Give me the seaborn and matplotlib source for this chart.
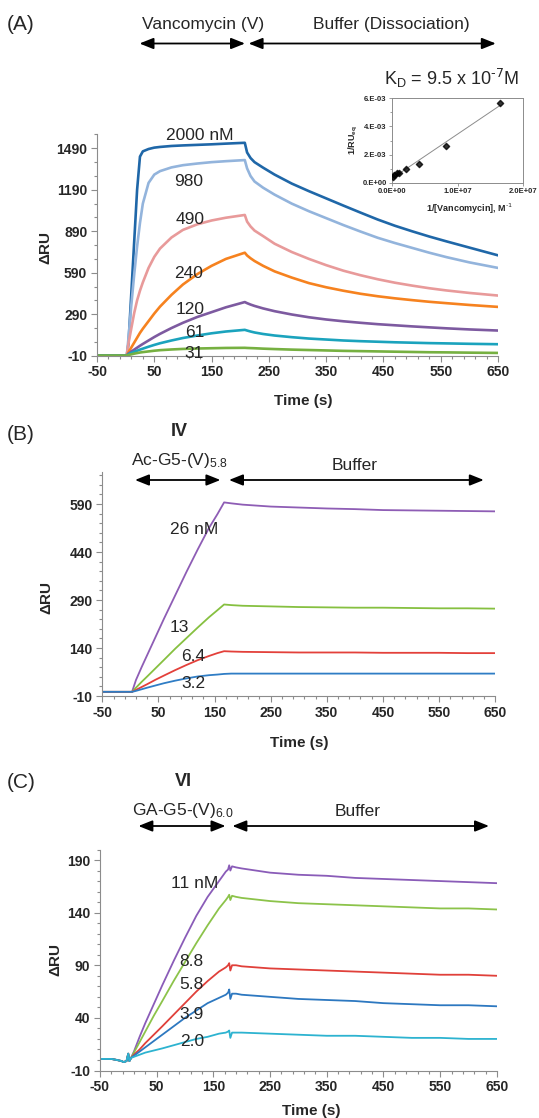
import numpy as np
import pandas as pd
import seaborn as sns
import matplotlib.pyplot as plt
from matplotlib.ticker import MultipleLocator, FuncFormatter
from matplotlib.patches import FancyArrowPatch

# --- (A) vancomycin sensorgrams ---
a_time = [-50, 0, 2, 5, 10, 15, 20, 25, 30, 40, 50, 60, 80, 100, 125, 150, 175, 208,
          212, 218, 225, 240, 260, 290, 320, 350, 380, 410, 440, 470, 500, 530, 560, 600, 650]
a_2000 = [-9, -9, -9, 80, 450, 820, 1190, 1430, 1468, 1485, 1495, 1500, 1507, 1511, 1515, 1519, 1524, 1530,
          1460, 1420, 1390, 1350, 1300, 1235, 1180, 1128, 1076, 1025, 975, 930, 890, 852, 817, 772, 716]
a_980 = [-9, -9, -9, 120, 360, 580, 780, 950, 1090, 1240, 1300, 1325, 1352, 1368, 1380, 1390, 1397, 1405,
         1345, 1290, 1250, 1205, 1155, 1090, 1035, 985, 935, 888, 843, 805, 770, 735, 703, 665, 625]
a_490 = [-9, -9, -9, 80, 190, 300, 390, 460, 520, 625, 705, 765, 845, 900, 940, 968, 988, 1008,
         960, 925, 895, 855, 800, 740, 690, 645, 605, 572, 543, 518, 497, 478, 462, 444, 425]
a_240 = [-9, -9, -9, 15, 50, 85, 120, 155, 185, 240, 295, 345, 430, 505, 580, 640, 690, 735,
         715, 695, 675, 640, 600, 555, 515, 485, 460, 438, 420, 405, 392, 380, 370, 357, 343]
a_120 = [-9, -9, -9, 5, 20, 34, 48, 62, 75, 100, 125, 148, 190, 228, 270, 305, 340, 378,
         370, 360, 350, 332, 312, 288, 268, 252, 239, 228, 218, 210, 202, 195, 188, 180, 172]
a_61 = [-9, -9, -9, 0, 10, 18, 26, 34, 41, 55, 68, 80, 100, 118, 136, 152, 165, 177,
        172, 165, 158, 147, 136, 124, 114, 107, 100, 95, 91, 87, 84, 81, 79, 76, 73]
a_31 = [-9, -9, -9, -5, 0, 5, 9, 13, 16, 21, 26, 30, 35, 39, 42, 44, 46, 47,
        46, 45, 44, 41, 38, 34, 31, 28, 25, 23, 21, 19, 17, 15, 14, 12, 10]
a_labels = ['2000 nM', '980', '490', '240', '120', '61', '31']
a_label_t = [130, 110, 113, 110, 112, 120, 120]
a_label_ru = [1585, 1253, 977, 581, 326, 161, 7]
a_colors = ['#1f67a8', '#93b4dc', '#e89a9a', '#f6821f', '#7d5aa0', '#1ba3bd', '#76b041']

# inset: 1/RUeq vs 1/[vancomycin]
inv_conc = [5.1e4, 3.07e5, 6.65e5, 1.07e6, 2.05e6, 4.09e6, 8.24e6, 1.652e7]
inv_ru = [3.79e-4, 5.45e-4, 6.64e-4, 7.11e-4, 9.72e-4, 1.33e-3, 2.61e-3, 5.69e-3]

# --- (B) Ac-G5-(V)5.8 ---
b_time = [-50, -10, 0, 3, 10, 20, 30, 45, 60, 80, 100, 120, 140, 155, 167,
          180, 200, 250, 300, 350, 400, 450, 500, 550, 600, 650]
b_26 = [3, 3, 3, 3, 40, 80, 118, 175, 232, 305, 378, 448, 515, 558, 595,
        592, 588, 582, 579, 576, 574, 571, 570, 569, 568, 567]
b_13 = [3, 3, 3, 3, 16, 34, 51, 77, 103, 138, 171, 204, 236, 258, 276,
        274, 272, 270, 268, 267, 266, 266, 265, 264, 264, 263]
b_6_4 = [3, 3, 3, 3, 9, 18, 27, 41, 54, 71, 87, 102, 115, 124, 130,
         129, 128, 127, 126, 126, 126, 125, 125, 125, 124, 124]
b_3_2 = [3, 3, 3, 3, 6, 11, 16, 23, 30, 38, 45, 51, 55, 57, 59,
         60, 60, 60, 60, 60, 60, 60, 60, 60, 60, 60]
b_labels = ['26 nM', '13', '6.4', '3.2']
b_label_t = [114, 88, 112, 112]
b_label_ru = [511, 203, 113, 30]
b_colors = ['#8e5db5', '#86c040', '#e3403a', '#2f7dc5']

# --- (C) GA-G5-(V)6.0 ---
c_time = [-50, -30, -20, -12, -8, -3, 0, 2, 5, 10, 20, 30, 45, 60, 80, 100, 120, 140, 160,
          172, 176, 178, 180, 183, 190, 200, 250, 300, 350, 400, 450, 500, 550, 600, 650]
c_base = [1, 1, 0, -1, -2, -1, 6, -1, 2]
c_11 = c_base + [8, 22, 35, 53, 71, 94, 116, 137, 155, 170,
                 179, 181, 185, 180, 184, 183, 182, 178, 176, 175, 173, 172, 171, 170, 169, 168]
c_8_8 = c_base + [7, 17, 27, 42, 56, 75, 93, 111, 128, 144,
                  152, 155, 157, 152, 156, 155, 154, 151, 149, 148, 147, 146, 145, 144, 144, 143]
c_5_8 = c_base + [5, 10, 16, 24, 32, 43, 54, 65, 75, 84,
                  88, 90, 92, 85, 90, 90, 89, 87, 86, 85, 84, 83, 82, 81, 81, 80]
c_3_9 = c_base + [4, 8, 12, 18, 24, 32, 40, 47, 54, 59,
                  62, 64, 67, 58, 63, 63, 62, 60, 58, 57, 56, 54, 53, 52, 52, 51]
c_2_0 = c_base + [3, 5, 7, 9, 11, 14, 17, 20, 22, 25,
                  26, 27, 28, 21, 26, 26, 26, 25, 24, 23, 23, 22, 21, 21, 20, 20]
c_labels = ['11 nM', '8.8', '5.8', '3.9', '2.0']
c_label_t = [117, 112, 112, 112, 112]
c_label_ru = [168, 94, 72, 43, 18]
c_colors = ['#8a5cb8', '#8cc34a', '#e0403a', '#2d78c0', '#2db3d0']

sns.set_style('ticks')
plt.rcParams['font.family'] = ['Liberation Sans', 'DejaVu Sans']
plt.rcParams['mathtext.default'] = 'regular'
plt.rcParams['axes.unicode_minus'] = False

W, H = 539, 1118
fig = plt.figure(figsize=(W / 100, H / 100), dpi=100)


def box(left, top, right, bottom):
    # figure-pixel box -> axes rect
    return [left / W, 1 - bottom / H, (right - left) / W, (bottom - top) / H]


def ftext(x, y, s, **kw):
    kw.setdefault('ha', 'center')
    kw.setdefault('va', 'center')
    fig.text(x / W, 1 - y / H, s, **kw)


def arrow(x0, x1, y):
    fig.add_artist(FancyArrowPatch((x0 / W, 1 - y / H), (x1 / W, 1 - y / H),
                                   transform=fig.transFigure,
                                   arrowstyle='<|-|>,head_length=0.7,head_width=0.28',
                                   mutation_scale=12, lw=1.3, color='black',
                                   shrinkA=0, shrinkB=0))


def panel(rect, time, series, labels, colors, lw, label_t, label_ru,
          yticks, yminor, ylim):
    ax = fig.add_axes(rect)
    df = pd.concat([pd.DataFrame({'time': time, 'ru': v, 'conc': n})
                    for n, v in zip(labels, series)])
    sns.lineplot(data=df, x='time', y='ru', hue='conc', hue_order=labels,
                 palette=dict(zip(labels, colors)), estimator=None,
                 legend=False, lw=lw, ax=ax)
    for s, t, r in zip(labels, label_t, label_ru):
        ax.text(t, r, s, ha='center', va='center', fontsize=12.5)
    ax.set_xlim(-50, 650)
    ax.set_ylim(*ylim)
    ax.set_xticks(range(-50, 651, 100))
    ax.set_yticks(yticks)
    ax.xaxis.set_minor_locator(MultipleLocator(20, offset=-50))
    ax.yaxis.set_minor_locator(MultipleLocator(yminor, offset=-10))
    ax.tick_params(which='both', direction='out', color='#8c8c8c', width=0.8)
    ax.tick_params(which='major', length=4, labelsize=10, pad=3)
    ax.tick_params(which='minor', length=2.5)
    plt.setp(ax.get_xticklabels() + ax.get_yticklabels(), fontweight='bold')
    sns.despine(ax=ax)
    for sp in ['left', 'bottom']:
        ax.spines[sp].set_color('#8c8c8c')
        ax.spines[sp].set_linewidth(0.8)
    ax.set_xlabel('')
    ax.set_ylabel('')
    return ax


# --- panel A ---
panel(box(97, 134.5, 498, 355.7), a_time, [a_2000, a_980, a_490, a_240, a_120, a_61, a_31],
      a_labels, a_colors, 1.9, a_label_t, a_label_ru,
      [-10, 290, 590, 890, 1190, 1490], 100, (-10, 1590))
ftext(7, 25, '(A)', ha='left', fontsize=15)
ftext(203, 25, 'Vancomycin (V)', fontsize=12.5)
ftext(391, 25, 'Buffer (Dissociation)', fontsize=12.5)
arrow(139.5, 245, 43.5)
arrow(248.6, 495.8, 43.5)
ftext(45, 248, 'ΔRU', rotation=90, fontsize=11, fontweight='bold')
ftext(303, 401, 'Time (s)', fontsize=11, fontweight='bold')

# inset
ins = fig.add_axes(box(392.3, 98.3, 522.7, 182.7))
sns.regplot(x=inv_conc, y=inv_ru, ci=None, truncate=True, marker='D', ax=ins,
            scatter_kws={'s': 10, 'color': 'black', 'zorder': 3},
            line_kws={'color': '#8c8c8c', 'lw': 0.7})
ins.set_xlim(0, 2e7)
ins.set_ylim(0, 6e-3)
ins.set_xticks([0, 1e7, 2e7])
ins.set_yticks([0, 2e-3, 4e-3, 6e-3])
ins.yaxis.set_minor_locator(MultipleLocator(1e-3))
ins.xaxis.set_major_formatter(FuncFormatter(lambda v, _: f'{v:.1E}'))
ins.yaxis.set_major_formatter(FuncFormatter(lambda v, _: f'{v:#.0E}'))
ins.tick_params(which='both', direction='out', color='#8c8c8c', width=0.6, labelsize=5.5, pad=1.5)
ins.tick_params(which='major', length=2.5)
ins.tick_params(which='minor', length=1.5)
plt.setp(ins.get_xticklabels() + ins.get_yticklabels(), fontweight='bold')
for sp in ins.spines.values():
    sp.set_color('#8c8c8c')
    sp.set_linewidth(0.7)
ftext(451.7, 78.3, r'K$_{D}$ = 9.5 x 10$^{\text{-7}}$M', fontsize=13)
ftext(469, 208.3, r'1/[Vancomycin], M$^{\text{-1}}$', fontsize=6.5, fontweight='bold')
ftext(353.3, 140.7, '1/RU$_{eq}$', rotation=90, fontsize=6.5, fontweight='bold')

# --- panel B ---
panel(box(102.3, 472, 495.2, 696), b_time, [b_26, b_13, b_6_4, b_3_2],
      b_labels, b_colors, 1.3, b_label_t, b_label_ru,
      [-10, 140, 290, 440, 590], 30, (-10, 690))
ftext(7, 435, '(B)', ha='left', fontsize=15)
ftext(179, 432, 'IV', fontsize=13, fontweight='bold')
ftext(179, 461, 'Ac-G5-(V)$_{5.8}$', fontsize=12.5)
ftext(354.7, 466, 'Buffer', fontsize=12.5)
arrow(135, 220.4, 480)
arrow(229, 483.8, 480)
ftext(46.5, 597, 'ΔRU', rotation=90, fontsize=11, fontweight='bold')
ftext(299.6, 743, 'Time (s)', fontsize=11, fontweight='bold')

# --- panel C ---
panel(box(99.9, 849.5, 496.9, 1070.5), c_time, [c_11, c_8_8, c_5_8, c_3_9, c_2_0],
      c_labels, c_colors, 1.3, c_label_t, c_label_ru,
      [-10, 40, 90, 140, 190], 10, (-10, 200))
ftext(7, 782, '(C)', ha='left', fontsize=15)
ftext(183.5, 782, 'VI', fontsize=13, fontweight='bold')
ftext(182.5, 810, 'GA-G5-(V)$_{6.0}$', fontsize=12.5)
ftext(358, 811.7, 'Buffer', fontsize=12.5)
arrow(138.4, 225.5, 826)
arrow(232.4, 489, 826)
ftext(55, 960, 'ΔRU', rotation=90, fontsize=11, fontweight='bold')
ftext(311.6, 1110.7, 'Time (s)', fontsize=11, fontweight='bold')

fig.savefig('out.png', dpi=100)
